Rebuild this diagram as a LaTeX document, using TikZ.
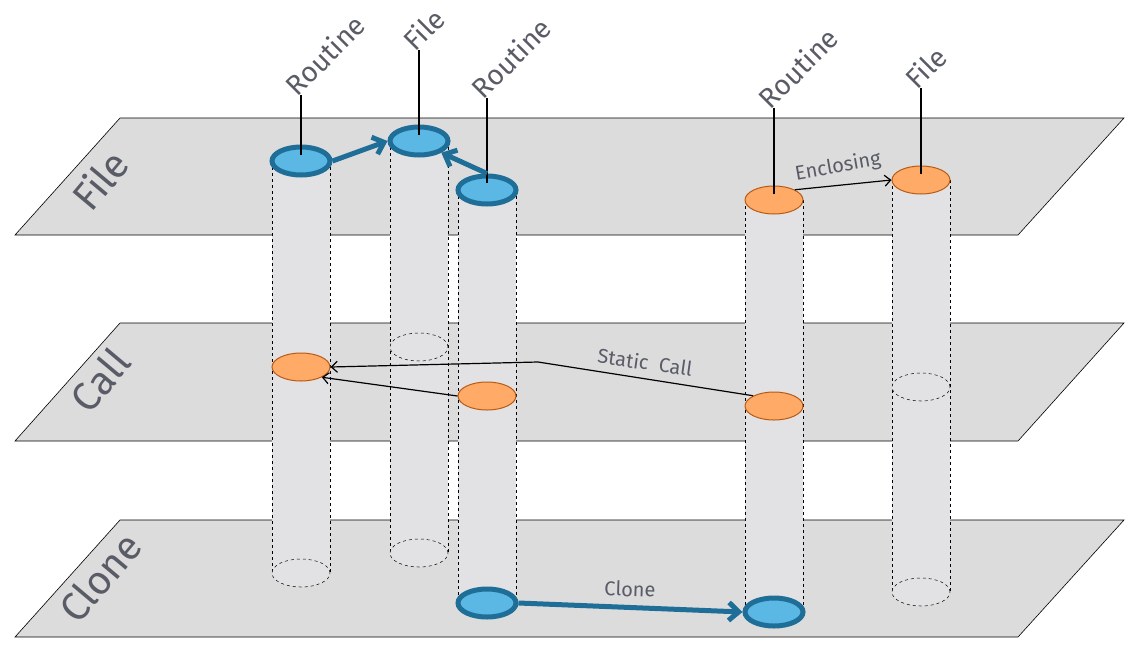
\documentclass[tikz,border=0pt]{standalone}
\usepackage{fontspec}
\setmainfont{Fira Sans}
\usetikzlibrary{shapes.geometric,arrows.meta}
\definecolor{txt}{HTML}{595C66}
\definecolor{plane}{HTML}{DCDCDD}
\definecolor{colf}{HTML}{E2E2E5}
\definecolor{bfill}{HTML}{5BB8E4}
\definecolor{bline}{HTML}{1F6E98}
\definecolor{ofill}{HTML}{FFAA66}
\definecolor{oline}{HTML}{B85A14}
\begin{document}
\begin{tikzpicture}[x=1pt,y=-1pt,
  plane/.style={fill=plane,draw=black,line width=0.6pt},
  col/.style={fill=colf,draw=none},
  colside/.style={draw=black,dashed,line width=0.5pt},
  ell/.style={ellipse,minimum width=58pt,minimum height=28pt,inner sep=0pt},
  blue/.style={ell,fill=bfill,draw=bline,line width=5pt},
  orange/.style={ell,fill=ofill,draw=oline,line width=1pt},
  ghost/.style={ell,fill=colf,draw=black,dashed,line width=0.5pt},
  lbl/.style={text=txt,font=\fontsize{28}{28}\selectfont,rotate=45,anchor=south west,inner sep=0pt},
  plbl/.style={text=txt,font=\fontsize{40}{40}\selectfont,rotate=50},
  alab/.style={text=txt,font=\fontsize{20}{20}\selectfont},
  barrow/.style={draw=bline,line width=5pt,-{Straight Barb[length=10pt,width=18pt]}},
  karrow/.style={draw=black,line width=1.2pt,-{Straight Barb[length=6pt,width=11pt]}}]
\useasboundingbox (0,0) rectangle (1134,645);
% planes
\path[plane] (120,118) -- (1124,118) -- (1018,235) -- (15,235) -- cycle;
\path[plane] (120,323) -- (1124,323) -- (1018,441) -- (15,441) -- cycle;
\path[plane] (120,520) -- (1124,520) -- (1018,637) -- (15,637) -- cycle;
\node[plbl] (pfile) at (100,180) {File};
\node[plbl] (pcall) at (100,380) {Call};
\node[plbl] (pclone) at (100,577) {Clone};
% columns
\foreach \x/\t/\b in {301/161/573, 419/141/553, 487/190/603, 774/200/612, 921/180/592}{
  \fill[colf] (\x-29,\t) rectangle (\x+29,\b);
  \draw[colside] (\x-29,\t) -- (\x-29,\b) (\x+29,\t) -- (\x+29,\b);
}
% ghost ellipses
\node[ghost] (g2c) at (419,347) {};
\node[ghost] (g5c) at (921,387) {};
\node[ghost] (g1) at (301,573) {};
\node[ghost] (g2) at (419,553) {};
\node[ghost] (g5) at (921,592) {};
% file level
\node[blue] (f1) at (301,161) {};
\node[blue] (f2) at (419,141) {};
\node[blue] (f3) at (487,190) {};
\node[orange] (f4) at (774,200) {};
\node[orange] (f5) at (921,180) {};
% call level
\node[orange] (c1) at (301,367) {};
\node[orange] (c3) at (487,396) {};
\node[orange] (c4) at (774,406) {};
% clone level
\node[blue] (k3) at (487,603) {};
\node[blue] (k4) at (774,612) {};
% leader lines and labels
\foreach \n/\x/\y/\top/\txt in {a/301/155/95/Routine, b/419/135/50/File, c/487/183/98/Routine, d/774/194/108/Routine, e/921/174/88/File}{
  \coordinate (t\n) at (\x,\top);
  \draw[line width=1.2pt] (\x,\y) -- (t\n);
  \node[lbl] (l\n) at ([xshift=-3pt,yshift=-3pt]t\n) {\txt};
}
% arrows
\draw[barrow] (f1.east) -- (f2.west);
\draw[barrow] (f3.north) -- (f2.south east);
\draw[barrow] (k3.east) -- (k4.west);
\node[alab,rotate=-2] (lclone) at (630,589) {Clone};
\draw[karrow] (f4.north east) -- (f5.west);
\node[alab,rotate=10] (lenc) at (838,167) {Enclosing};
\coordinate (bend) at (538,362);
\draw[karrow] (c4.north west) -- (bend) -- (c1.east);
\draw[karrow] (c3.west) -- (c1.south east);
\node[alab,rotate=-8] (lstat) at (645,362) {Static\ \ Call};
\end{tikzpicture}
\end{document}
